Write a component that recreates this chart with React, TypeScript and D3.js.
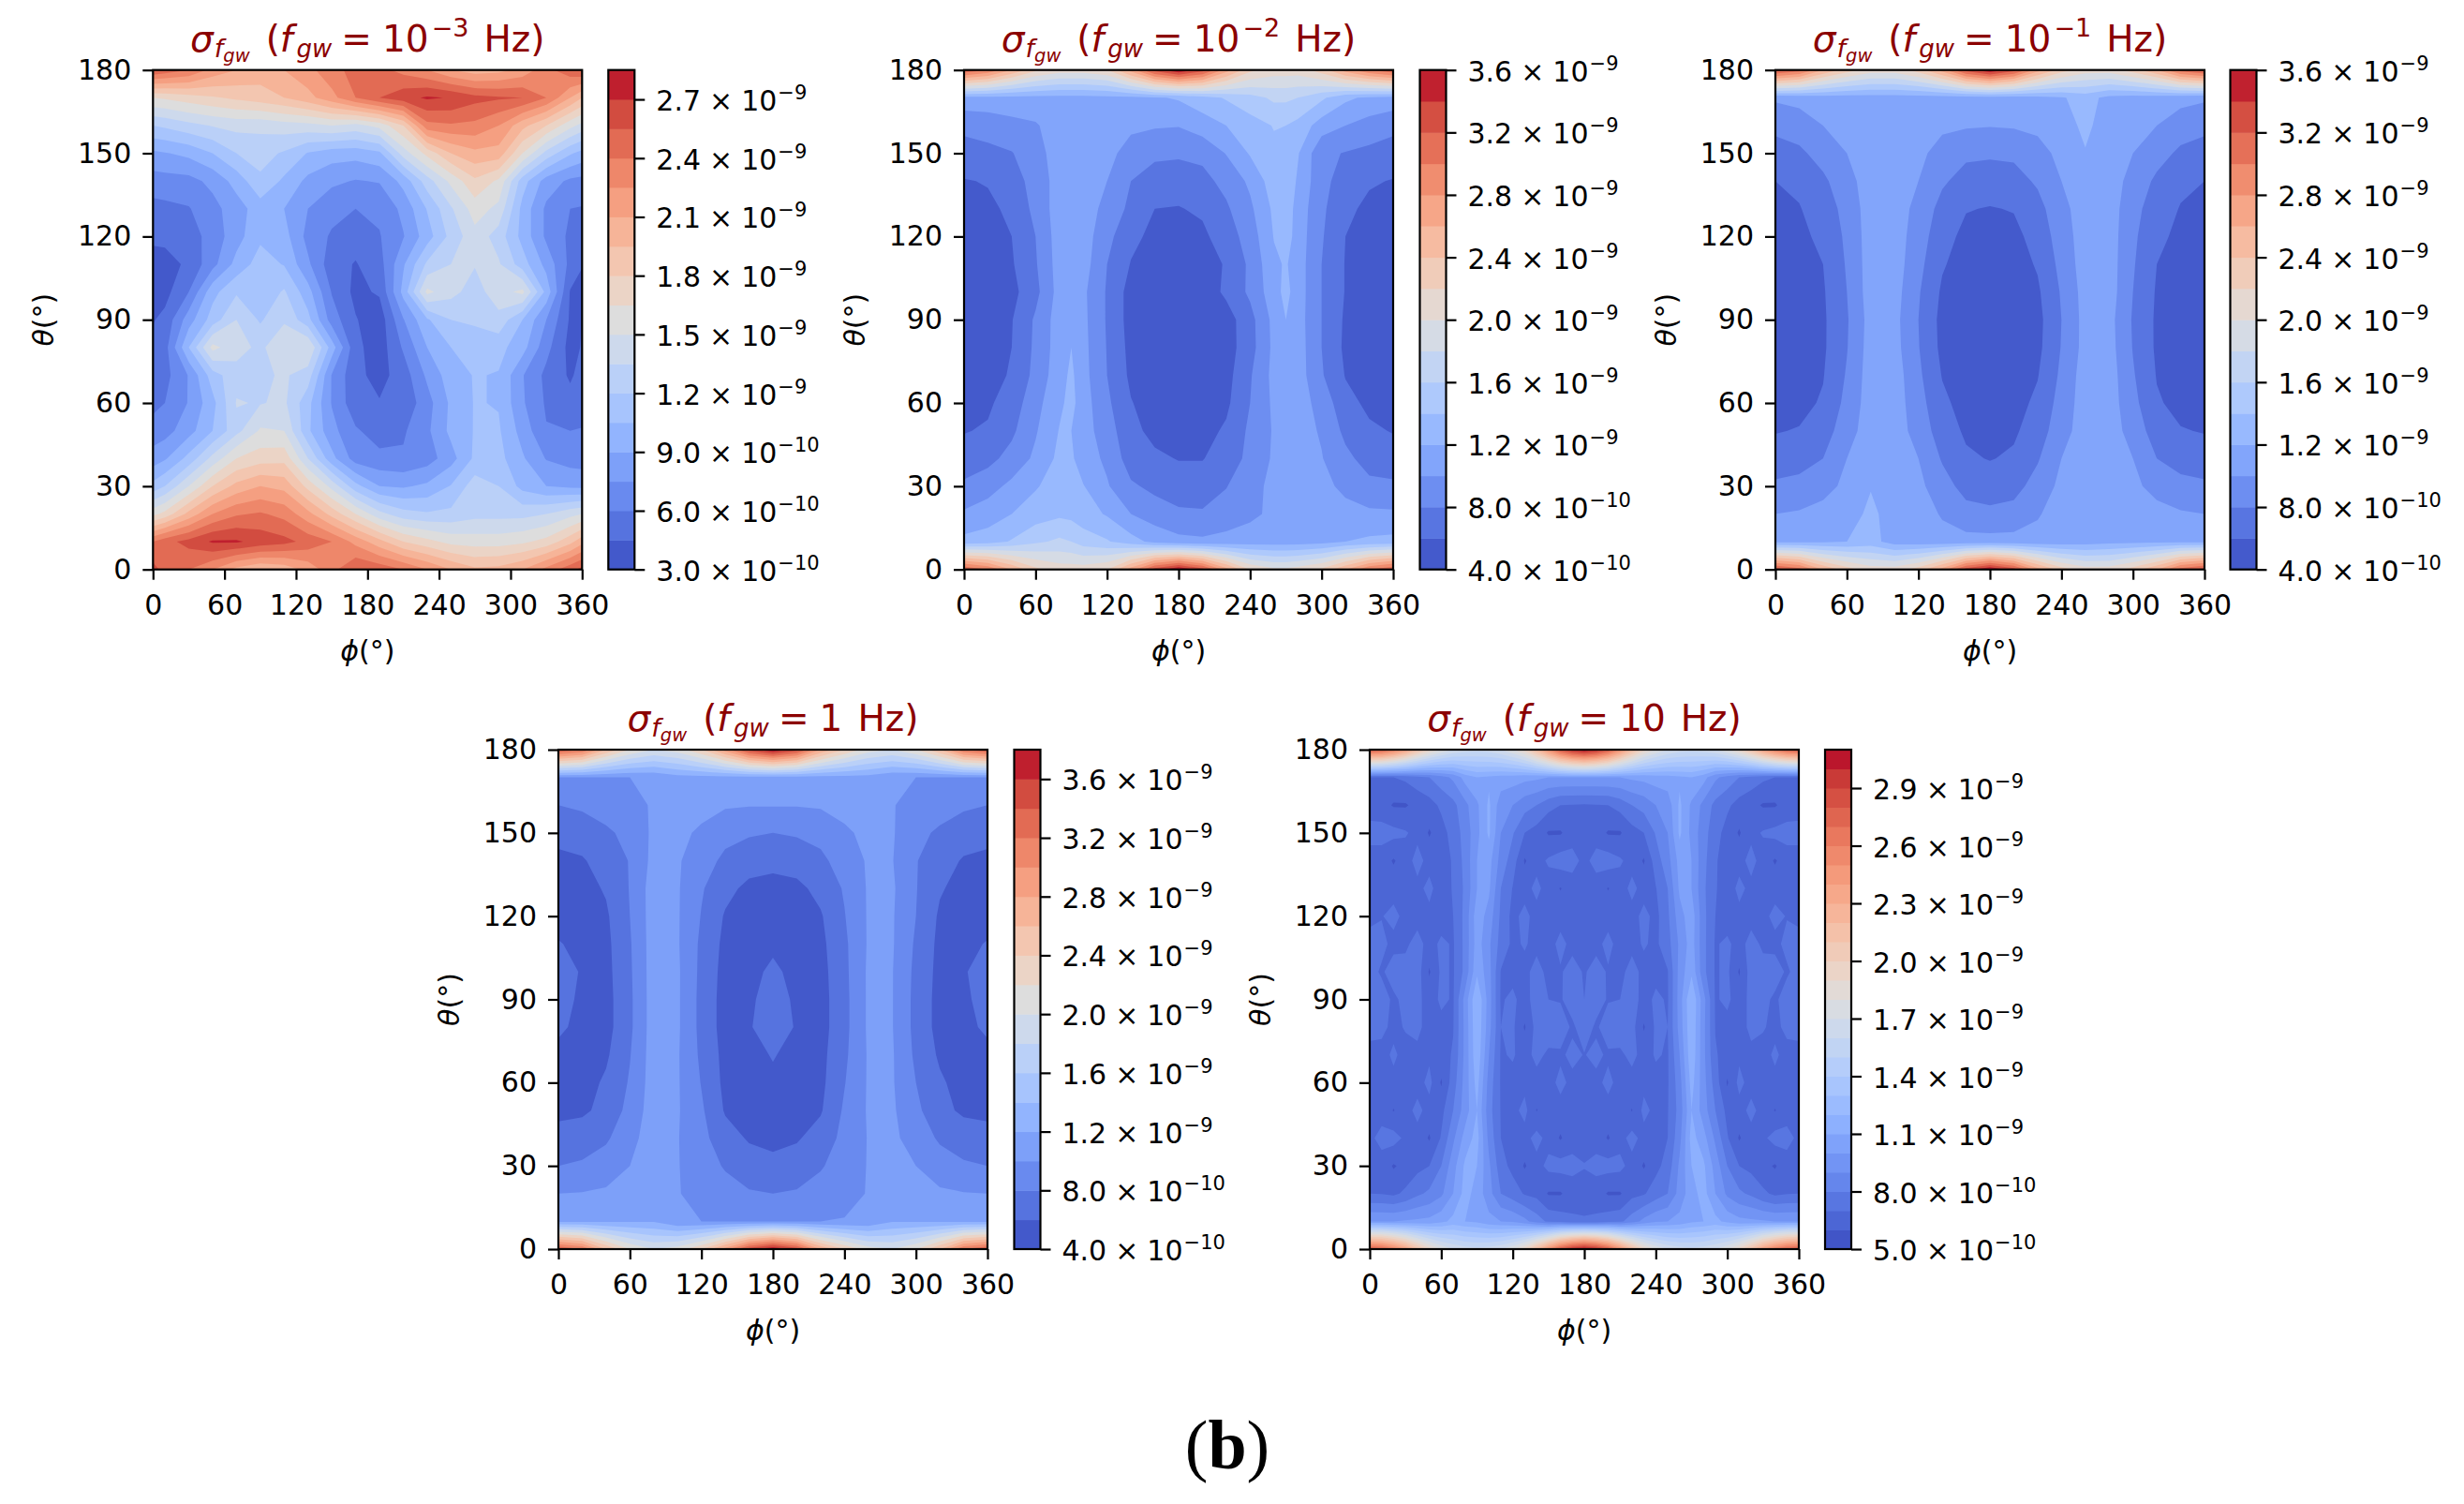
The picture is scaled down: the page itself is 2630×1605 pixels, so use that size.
import React, {useEffect, useRef} from "react";
import * as d3 from "d3";

// all sigma values are in units of 1e-10
const thetaNodes = d3.range(0, 181, 10);
const phi20 = d3.range(0, 361, 20);
const phi10 = d3.range(0, 361, 10);
const phiOdd = [0, 10, 30, 50, 70, 90, 110, 130, 150, 170, 190, 210, 230, 250, 270, 290, 310, 330, 350, 360];
const phiSpike = [0, 20, 40, 60, 80, 90, 100, 120, 140, 160, 180, 200, 220, 240, 260, 270, 280, 300, 320, 340, 360];

const xTicks = [0, 60, 120, 180, 240, 300, 360];
const yTicks = [0, 30, 60, 90, 120, 150, 180];

const levels1 = d3.range(0, 18).map(i => 3 + i * 1.5);
const levels2 = d3.range(0, 17).map(i => 4 + i * 2);
const levels4 = d3.range(0, 18).map(i => 4 + i * 2);
const levels5 = d3.range(0, 27).map(i => 5 + i);

const barTicks1 = [3, 6, 9, 12, 15, 18, 21, 24, 27];
const barTicks2 = [4, 8, 12, 16, 20, 24, 28, 32, 36];
const barTicks5 = [5, 8, 11, 14, 17, 20, 23, 26, 29];

const sigma1 = [
  [26,25,24,22.5,20.5,19.5,20,21.5,23.5,25.5,25,24,22.5,21,19.8,20,21,23,25,26],
  [24,25,26,27.2,27.2,26.5,26,25,24,22,20,18,17,16,15.8,15.8,16.2,17,19,20.5],
  [16,17,20,22.5,23.8,24.2,23.5,21.5,19,16.5,14,12.6,12.2,12.4,13,13,13,13.5,14.5,15],
  [11,12,15,18,20,21,20.5,17.5,14.5,11,9,8.8,9.3,10.6,12.8,12,10,9,8.7,8.6],
  [8.2,8.8,11,14,16.5,17.3,17.5,13.5,9.5,6.8,6.4,6.2,6.8,8.4,10.8,11,9.2,7.4,6.9,6.8],
  [6.6,6.9,8.4,10.5,13,15.2,15,10.8,8,6.2,5.3,5.8,7.2,9.4,10.6,10.7,8.4,6.1,6,6.1],
  [5.6,6,7.6,10,13.6,13.4,13.8,11,7.4,5,4.6,4.9,6.9,9.3,10.6,10.4,7.7,5.8,5,5.2],
  [5.2,5.5,7.6,11.3,13,13.2,13.7,12.8,7.4,4.9,4,5.2,7.8,9.8,10.6,10.4,7.6,5.6,4.3,5],
  [5,5.4,10.5,15.5,14,13.2,14.6,15,9.8,4.9,3.7,6.2,9,10.5,11,11,9.6,6.5,4,4.6],
  [4.4,4.9,8.3,11.2,13.5,11.8,13.3,11,6.8,4.6,3.6,7.4,10.3,12,12.3,13,10.5,7.5,4.3,4.5],
  [3.8,4,6,10,11.8,10.8,12.2,9.6,5.9,4.1,4.7,9.5,15.4,14,12.8,14.4,15.4,10,4.4,3.9],
  [3.9,3.9,4.8,7,9.5,11.2,10.4,7.8,5.1,4.4,5.4,8.8,12.3,13.5,13.6,13.7,11.2,8.5,5.6,4.6],
  [4.8,4.9,5.3,6.6,8.4,10.2,9.6,7,5.8,5.1,5.9,7.4,9.8,12.5,14.5,12.8,10,7.2,5.7,5.3],
  [5.5,5.6,5.9,7,8.3,9.8,9,7.5,6.5,6,6.3,7.9,10.6,13.3,15.7,14.6,10,7.2,6,5.9],
  [6.8,6.9,7,7.9,9.6,11.7,10.2,8.6,7.8,7.4,7.6,9.5,12.8,15.4,17.7,16.2,11.2,8.3,7.2,7],
  [8.7,8.9,9.4,10.5,12,12.6,11.8,10.4,9.7,9.6,10.2,14.2,17,19.5,20.6,20.4,16.5,13,10.7,10],
  [12,12.3,13,13.6,14,13.9,14.3,14.5,15,14.5,15.5,18,23.5,23.8,23.6,22.5,20,18,15.5,14.5],
  [16.5,16.7,17.3,17.8,18.3,18.8,19.5,20.5,22,24,25.5,26.5,27.2,26.9,26,25.7,25.5,24,21,19.5],
  [25.5,25,24,22,21,20.3,21,22,23.5,24.5,24.5,23.5,22.5,21,20.2,20.5,21.5,23.5,25,25.5],
];

const sigma2 = [
  [32,30,26,22.5,21,21,21,22,27,33,36,33,27,22,20.5,20.5,21,22.5,26,30,32],
  [12.6,13,14.2,15.6,16.4,16,15,14.2,12.8,11.4,10.6,10.4,10.6,10.9,11,11,11,11.3,12,12.4,12.6],
  [10.3,11,12,13,13.6,13.4,12.9,11.8,10,9,8.3,8.2,9,9.6,10.4,10.6,10.7,10.8,10.7,10.4,10.3],
  [8.4,9.2,10.5,11.8,13,12.8,12.1,10.2,8.3,7.5,7.1,7.1,7.9,9.6,10.3,10.6,10.7,10.6,9.5,8.5,8.4],
  [6.8,7.4,8.7,10.4,12.5,12.3,11,9.6,7,6.4,5.9,5.9,7,8.5,10.3,10.7,10.8,10.1,8.5,7.2,6.8],
  [5.9,6.2,7.6,9.8,12.1,12,10.9,8.9,6.6,5.4,5.3,5.3,6.3,8.4,10.2,10.7,10.8,9.8,7.5,6.3,5.9],
  [5.3,5.7,6.9,9.3,11.6,12.6,10.9,8.4,6.1,5.1,5,5,5.6,8,10.4,10.9,10.9,9.3,6.6,5.6,5.3],
  [5,5.3,6.2,8.6,11.2,12.4,10.7,8,5.6,4.9,4.8,4.9,5.3,7.8,10.6,10.9,11,8.2,5.9,5.2,5],
  [4.8,5,6,8.4,11,12,10.6,7.9,5.4,4.8,4.7,4.8,5.1,7.2,10.5,10.9,11,8,5.6,5,4.8],
  [4.8,5,5.9,8.3,11,12,10.5,7.8,5.2,4.7,4.6,4.7,5.1,7.3,10.6,12,10.9,8,5.7,5,4.8],
  [4.9,5.1,5.4,7.4,10.8,11.5,10.4,7.8,5.2,4.7,4.6,4.8,6.4,8.4,11.2,12.6,11,8,5.9,5.1,4.9],
  [5.1,5.3,5.8,7.8,10.9,11.4,10.9,8,5.9,4.9,4.8,5,6.2,8.4,11.6,12.2,11,8,5.9,5.3,5.1],
  [5.4,5.7,6,8,11,11.4,11,8.6,6.5,5.5,5.2,5.6,7,8.9,12.1,13,11.1,8.2,6,5.6,5.4],
  [5.6,5.7,6.3,8.6,11,11.4,11,9.4,7.5,6,5.9,6.3,7.7,9.6,12.4,13.2,11.2,8.4,6.4,5.6,5.6],
  [5.9,6.1,7.3,8.6,11,11.4,11,10,8,7.1,6.9,7.4,8.6,10.4,13.1,13.6,11.7,8.6,7.1,6.2,5.9],
  [7.2,7.5,7.9,9.2,11,11.4,11,10.6,9.2,8.4,8.3,8.5,10.1,12.2,13.6,13.9,12.2,8.4,7.9,7.5,7.2],
  [8.5,8.8,9.4,9.8,11,11,11,11,10.4,10.2,10.1,11,12,13.2,14.1,14,13.4,11,10,9.2,8.5],
  [11.3,11.3,11.3,11.3,11.3,11.3,11.3,11.4,11.4,11.8,12.2,13.2,14.2,15.2,16.4,16.4,16,14.4,12.4,11.6,11.3],
  [32,30,26,22.5,21,21,21,22,27,33,36,33,27,22.5,21,21,21,23,27,30,32],
];

const sigma3 = [
  [33,31,26,23,21,21,23,27,33,36,33,27,23,21,21,23,26,31,33],
  [11.6,11.6,11.7,12,12.8,11,10.8,10.7,10.7,10.7,10.7,10.7,10.8,11,11.4,11.5,11.6,11.6,11.6],
  [10,10.2,10.6,11.2,12.4,11.2,11,9.8,8.7,8.4,8.7,9.8,11,11.2,11.2,11,10.6,10.2,10],
  [8.4,8.7,9.4,10.4,11.9,11,10.5,8.8,7.3,7.1,7.3,8.8,10.5,11,11,10.4,9.4,8.7,8.4],
  [6.8,7.1,8,10,11,11,10,7.8,6.3,5.9,6.3,7.8,10,11,11,10,8,7.1,6.8],
  [5.9,6.1,7,9.2,11,11,9.2,7,5.7,5.4,5.7,7,9.2,11,11,9.2,7,6.1,5.9],
  [5.3,5.5,6.2,8.6,11,11,8.8,6.4,5.3,5,5.3,6.4,8.8,11,11,8.6,6.2,5.5,5.3],
  [5,5.2,5.9,8.2,11,11,8.4,5.9,5,4.8,5,5.9,8.4,11,11,8.2,5.9,5.2,5],
  [4.8,5,5.7,7.9,10.9,10.7,8.1,5.5,4.7,4.7,4.7,5.5,8.1,10.7,10.8,7.9,5.7,5,4.8],
  [4.8,5,5.7,7.8,10.8,10.6,8,5.4,4.7,4.6,4.7,5.4,8,10.7,10.7,7.8,5.7,5,4.8],
  [4.9,5.1,5.8,8,11,10.8,8.2,5.7,4.8,4.7,4.8,5.7,8.2,10.8,11,8,5.8,5.1,4.9],
  [5.1,5.3,6,8.2,11,11,8.6,6.2,5.1,4.9,5.1,6.2,8.6,11,11,8.2,6,5.3,5.1],
  [5.4,5.6,6.4,8.4,11,11,9,6.7,5.5,5.2,5.5,6.7,9,11,11,8.4,6.4,5.6,5.4],
  [5.6,5.9,6.9,8.7,11,11,9.4,7.3,6.1,5.9,6.1,7.3,9.4,11,11,8.7,6.9,5.9,5.6],
  [6,6.4,7.6,9.3,11,11,10,8.3,7.2,7,7.2,8.3,10,11,11,9.3,7.6,6.4,6],
  [7.2,7.6,8.8,10,11,11,10.5,9.2,8.4,8.3,8.4,9.2,10.6,11.9,11,10,8.8,7.6,7.2],
  [8.5,9,10,10.8,11,11,10.8,10.4,10.2,10.1,10.2,10.5,11.2,12.4,11.1,10.8,10,9,8.5],
  [10.3,10.6,11,11,11.1,11.1,11.1,11,11,11,11,11.3,11.8,12.8,11.4,11.1,11,10.6,10.3],
  [33,31,26,23,21,21,23,27,33,36,33,27,23,21,21,23,26,31,33],
];

const sigma4 = [
  [34,32,26,22,20,21,24,29,35,38,35,28,24,21,20,22,26,32,34],
  [11.6,11.6,11.7,11.8,11.8,10.2,10,10,10,10,10,10,10.1,10.2,11.8,11.8,11.7,11.6,11.6],
  [10,10.1,10.3,10.8,11,10.1,9.4,8.8,8.2,8,8.2,8.8,9.4,10.1,10.8,10.8,10.3,10.1,10],
  [8,8.3,9,10,11,10.1,9,7.8,6.9,6.5,6.9,7.8,9,10.1,10.6,10,9,8.3,8],
  [6.6,6.9,7.7,9.4,11,10.1,8.6,6.8,5.8,5.5,5.8,6.8,8.6,10.1,10.4,9.2,7.7,6.9,6.6],
  [5.6,5.7,6.5,8.7,11,10.2,8.3,5.8,5.3,5.2,5.3,5.8,8.3,10.2,10.3,8.5,6.5,5.7,5.6],
  [5.1,5.2,6.3,8.2,11,10.2,7.9,5.5,5.2,5.7,5.2,5.5,7.9,10.2,10.2,8,6.3,5.2,5.1],
  [5.7,5.4,5.7,7.9,11,10.2,7.6,5.4,5.5,6.1,5.5,5.4,7.6,10.2,10.2,7.6,5.7,5.4,5.7],
  [6.2,5.7,5.3,7.6,11,10.3,7.4,5.2,5.9,6.6,5.9,5.2,7.4,10.3,10.1,7.4,5.3,5.7,6.2],
  [6.4,5.8,5.3,7.6,11,10.3,7.4,5.2,5.8,6.5,5.8,5.2,7.4,10.3,10.1,7.4,5.3,5.8,6.4],
  [6.5,5.9,5.4,7.7,11,10.3,7.5,5.3,5.7,6.2,5.7,5.3,7.5,10.3,10.1,7.5,5.4,5.9,6.5],
  [6.1,5.6,5.5,7.8,11,10.2,7.6,5.5,5.4,5.8,5.4,5.5,7.6,10.2,10.2,7.7,5.5,5.6,6.1],
  [5.4,5.3,5.7,8,11,10.2,7.9,5.8,5.2,5,5.2,5.8,7.9,10.2,10.2,8,5.7,5.3,5.4],
  [5.1,5.3,6.2,8.1,11,10.2,8.2,6.6,5.5,5.3,5.5,6.6,8.2,10.2,10.3,8.1,6.2,5.3,5.1],
  [5.5,5.8,6.9,8.1,10.6,10.2,9,7.5,6.9,6.6,6.9,7.5,9,10.2,10.1,8.1,6.9,5.8,5.5],
  [6.7,7,7.7,8.5,10.4,10.3,9.8,8.7,8.2,8,8.2,8.7,9.8,10.3,10.2,8.5,7.7,7,6.7],
  [8,8.3,8.8,9.4,10.2,10.6,10.4,10.2,10.1,10.1,10.1,10.2,10.4,10.6,10.1,9.4,8.8,8.3,8],
  [10,10,10,10,10.3,11.2,11.3,11.3,11.3,11.3,11.3,11.3,11.3,11.2,10.3,10,10,10,10],
  [34,32,26,22,20,21,24,29,35,38,35,28,24,21,20,22,26,32,34],
];

const sigma5 = [
  [28,27.5,26,24,21.5,19.5,18,17,16.5,16.3,16.5,17,18,19.5,22,25,28,30,31,30,28,25,22,19.5,18,17,16.5,16.3,16.5,17,18,19.5,21.5,24,26,27.5,28],
  [10,10,10,10.1,10.2,10.3,10.7,11.3,11,10.8,10.3,10,9.8,9.3,8.5,7.8,7.6,7.2,7.1,7.2,7.6,7.8,8.5,9.3,9.8,10,10.3,10.8,11,11.3,10.7,10.3,10.2,10.1,10,10,10],
  [7,6.95,6.8,7.2,7.8,8.2,8.8,10,11.4,10.6,9.4,8,7.5,6.9,6.7,5.9,5.9,6.5,6.6,6.5,5.9,5.9,6.7,6.9,7.5,8,9.4,10.6,11.4,10,8.8,8.2,7.8,7.2,6.8,6.95,7],
  [6.7,6.6,5.9,6.3,6.7,7,8,9.6,11.2,11,9.2,7.4,6.7,5.9,6.6,7.3,7.4,7.3,7.05,7.3,7.4,7.3,6.6,5.9,6.7,7.4,9.2,11,11.2,9.6,8,7,6.7,6.3,5.9,6.6,6.7],
  [6.8,7.3,7.4,6.8,6.6,5.9,7.1,8.8,10.4,11.4,8.7,7,6.1,6.6,7.4,6.6,5.9,6.6,6.6,6.6,5.9,6.6,7.4,6.6,6.1,7,8.7,11.4,10.4,8.8,7.1,5.9,6.6,6.8,7.4,7.3,6.8],
  [6.6,6.6,5.95,6.6,7.3,6.6,6.7,8,9.5,11,8.4,6.95,6.7,7.3,5.95,6.6,6.6,6.6,6.6,6.6,6.6,6.6,5.95,7.3,6.7,6.95,8.4,11,9.5,8,6.7,6.6,7.3,6.6,5.95,6.6,6.6],
  [6.6,6.6,6.7,6.6,6.6,7.3,5.9,7.5,9.4,11.4,8.6,6.9,6.7,6.7,6.6,6.6,7.3,6.7,6.6,6.7,7.3,6.6,6.6,6.7,6.7,6.9,8.6,11.4,9.4,7.5,5.9,7.3,6.6,6.6,6.7,6.6,6.6],
  [6.6,6.6,7.2,6.6,6.7,6.8,6.6,7.1,9.3,11.8,9,6.9,7.1,6.6,7.3,6.8,6.8,7.3,6.95,7.3,6.8,6.8,7.3,6.6,7.1,6.9,9,11.8,9.3,7.1,6.6,6.8,6.7,6.6,7.2,6.6,6.6],
  [7.4,7.3,6.7,7.1,7.3,6.5,6.7,6.95,9.3,11.9,9.4,7,7.2,5.9,7.4,7.6,7.7,6.8,7.6,6.8,7.7,7.6,7.4,5.9,7.2,7,9.4,11.9,9.3,6.95,6.7,6.5,7.3,7.1,6.7,7.3,7.4],
  [7.5,7.5,6.8,7.3,7.3,6.5,7.2,6.9,9.4,12,9.5,6.9,7.2,6.6,7.5,7,6.9,7.5,7,7.5,6.9,7,7.5,6.6,7.2,6.9,9.5,12,9.4,6.9,7.2,6.5,7.3,7.3,6.8,7.5,7.5],
  [7.4,6.85,7.5,7.4,7.5,5.9,7.2,6.9,8.3,10.8,9.4,6.95,6.7,6.7,7.4,6.7,6.9,7.4,6.9,7.4,6.9,6.7,7.4,6.7,6.7,6.95,9.4,10.8,8.3,6.9,7.2,5.9,7.5,7.4,7.5,6.85,7.4],
  [7.3,7.3,6.7,6.8,7.4,6.6,7.2,6.9,8.3,10.5,9.2,7.6,6.8,7.1,6.7,6.6,7.3,6.7,6.6,6.7,7.3,6.6,6.7,7.1,6.8,7.6,9.2,10.5,8.3,6.9,7.2,6.6,7.4,6.8,6.7,7.3,7.3],
  [6.8,6.95,7.3,6.7,6.6,6.7,6.5,7,8.3,10.6,9.6,7.8,6.7,7.3,6.6,6.6,6.6,6.6,6.6,6.6,6.6,6.6,6.6,7.3,6.7,7.8,9.6,10.6,8.3,7,6.5,6.7,6.6,6.7,7.3,6.95,6.8],
  [6.6,6.6,6.6,6.6,6.7,7.3,6.4,7.1,8.2,10,10.2,8,6.95,6.6,7.3,6.5,5.95,6.5,6.6,6.5,5.95,6.5,7.3,6.6,6.95,8,10.2,10,8.2,7.1,6.4,7.3,6.7,6.6,6.6,6.6,6.6],
  [6.5,6.5,5.9,6.5,7.4,6.6,6.1,7.2,8.3,10,10.4,8.6,7.5,5.9,6.6,7.15,7.5,7.4,6.7,7.4,7.5,7.15,6.6,5.9,7.5,8.6,10.4,10,8.3,7.2,6.1,6.6,7.4,6.5,5.9,6.5,6.5],
  [7.4,7.4,7.3,7.1,6.7,5.9,6.6,7.4,8.4,9.7,11.2,9,8.1,7,6.6,5.9,5.9,6.5,6.6,6.5,5.9,5.9,6.6,7,8.1,9,11.2,9.7,8.4,7.4,6.6,5.9,6.7,7.1,7.3,7.4,7.4],
  [6.5,6.4,5.9,5.9,6.3,6.6,7.2,7.7,8.7,9.8,11.2,9.4,9,8.4,8,7.4,7,6.95,6.9,6.95,7,7.4,8,8.4,9,9.4,11.2,9.8,8.7,7.7,7.2,6.6,6.3,5.9,5.9,6.4,6.5],
  [6.9,6.9,7,7.2,7.6,8,8.6,9.2,10.4,11,10.8,10.6,10.5,10.3,10.2,10,10,10,10,10,10,10,10.2,10.3,10.5,10.6,10.8,11,10.4,9.2,8.6,8,7.6,7.2,7,6.9,6.9],
  [28,27.5,26,24,21.5,19.5,18,17,16.5,16.3,16.5,17,18,19.5,22,25,28,30,31,30,28,25,22,19.5,18,17,16.5,16.3,16.5,17,18,19.5,21.5,24,26,27.5,28],
];

// coolwarm anchors, evenly spaced over 0..1
const coolwarmHex = ["#3b4cc0", "#4d68d7", "#6282ea", "#779af7", "#8db0fe", "#a3c2fe", "#b8cff9", "#ccd9ed", "#dddddd",
  "#ecd3c5", "#f4c4ad", "#f7b194", "#f49a7b", "#ec7f63", "#dd604c", "#cb3e38", "#b40426"];
const coolwarm = d3.scaleLinear<string>()
  .domain(coolwarmHex.map((_, i) => i / (coolwarmHex.length - 1)))
  .range(coolwarmHex);

const FONT = "'DejaVu Sans'";
const TICK_SIZE = 30;

type Panel = {
  sigma: number[][], phi: number[], levels: number[], barTicks: number[],
  base: string, exp: string,
  left: number, top: number, barLeft: number,
};

const PLOT_W = 458;
const PLOT_H = 533;
const BAR_W = 28;

const panels: Panel[] = [
  {sigma: sigma1, phi: phiOdd, levels: levels1, barTicks: barTicks1, base: "10", exp: "\u22123", left: 163.3, top: 74.7, barLeft: 649.3},
  {sigma: sigma2, phi: phiSpike, levels: levels2, barTicks: barTicks2, base: "10", exp: "\u22122", left: 1029, top: 74.7, barLeft: 1515.5},
  {sigma: sigma3, phi: phi20, levels: levels2, barTicks: barTicks2, base: "10", exp: "\u22121", left: 1895, top: 74.7, barLeft: 2380.5},
  {sigma: sigma4, phi: phi20, levels: levels4, barTicks: barTicks2, base: "1", exp: "", left: 596, top: 800, barLeft: 1082.5},
  {sigma: sigma5, phi: phi10, levels: levels5, barTicks: barTicks5, base: "10", exp: "", left: 1462, top: 800, barLeft: 1948},
];

const Axis = ({axis, x, y, font}: {axis: d3.Axis<any>, x: number, y: number, font: boolean}) => {
  const ref = useRef<SVGGElement>(null);
  useEffect(() => {
    const g = d3.select(ref.current!);
    g.call(axis);
    g.select(".domain").remove();
    g.attr("font-family", FONT).attr("font-size", font ? TICK_SIZE : 0);
    g.selectAll("line").attr("stroke", "#000").attr("stroke-width", 2.2);
    g.selectAll("text").attr("fill", "#000");
  });
  return <g ref={ref} transform={`translate(${x},${y})`}/>;
};

const BarLabel = ({value, x, y}: {value: number, x: number, y: number}) => {
  const mant = value >= 10 ? (value / 10).toFixed(1) : value.toFixed(1);
  const exp = value >= 10 ? "\u22129" : "\u221210";
  return (
    <text x={x} y={y} fontFamily={FONT} fontSize={TICK_SIZE} fill="#000">
      {mant}<tspan dx={9}>×</tspan><tspan dx={9}>10</tspan>
      <tspan dx={1} dy={-12} fontSize={21}>{exp}</tspan>
    </text>
  );
};

const Title = ({p}: {p: Panel}) => (
  <text x={p.left + PLOT_W / 2} y={p.top - 20} textAnchor="middle" fontFamily={FONT} fontSize={39} fill="#8b0000">
    <tspan fontStyle="italic">σ</tspan>
    <tspan fontStyle="italic" fontSize={27} dy={6} dx={1}>f</tspan>
    <tspan fontStyle="italic" fontSize={19.5} dy={5}>gw</tspan>
    <tspan dx={17} dy={-11}>(</tspan>
    <tspan fontStyle="italic">f</tspan>
    <tspan fontStyle="italic" fontSize={26} dy={6} dx={4}>gw</tspan>
    <tspan dx={10} dy={-6}>=</tspan>
    <tspan dx={11}>{p.base}</tspan>
    {p.exp ? <tspan dx={3} fontSize={27} dy={-16}>{p.exp}</tspan> : null}
    <tspan dx={16} dy={p.exp ? 16 : 0}>Hz)</tspan>
  </text>
);

const Chart = ({p}: {p: Panel}) => {
  const x = d3.scaleLinear().domain([0, 360]).range([0, PLOT_W]);
  const y = d3.scaleLinear().domain([0, 180]).range([PLOT_H, 0]);
  const bar = d3.scaleLinear()
    .domain([p.levels[0], p.levels[p.levels.length - 1]])
    .range([PLOT_H, 0]);

  const nx = p.phi.length;
  const ny = thetaNodes.length;
  // grid index -> degrees; d3.contours puts node i at i + 0.5
  const phiOf = d3.scaleLinear().domain(p.phi.map((_, i) => i + 0.5)).range(p.phi).clamp(true);
  const thetaOf = d3.scaleLinear().domain(thetaNodes.map((_, i) => i + 0.5)).range(thetaNodes).clamp(true);
  const path = d3.geoPath(d3.geoTransform({
    point(px: number, py: number) {
      (this as any).stream.point(x(phiOf(px)), y(thetaOf(py)));
    },
  }));
  const bands = p.levels.slice(0, -1);
  const contours = d3.contours().size([nx, ny]).smooth(true).thresholds(bands)(p.sigma.flat());
  const color = (i: number) => coolwarm((i + 0.5) / bands.length);
  const clipId = `clip-${p.left}`;
  const mid = PLOT_H / 2;

  return (
    <g>
      <Title p={p}/>
      <g transform={`translate(${p.left},${p.top})`}>
        <clipPath id={clipId}><rect width={PLOT_W} height={PLOT_H}/></clipPath>
        <g clipPath={`url(#${clipId})`}>
          <rect width={PLOT_W} height={PLOT_H} fill={color(0)}/>
          {contours.map((c, i) => (
            <path key={i} d={path(c as any) || ""} fill={color(i)} fillRule="evenodd"/>
          ))}
        </g>
        <rect width={PLOT_W} height={PLOT_H} fill="none" stroke="#000" strokeWidth={2.2}/>
        <text x={PLOT_W / 2} y={PLOT_H + 97} textAnchor="middle" fontFamily={FONT} fontSize={TICK_SIZE}>
          <tspan fontStyle="italic">ϕ</tspan>(°)
        </text>
        <text transform={`translate(-106,${mid}) rotate(-90)`} textAnchor="middle" fontFamily={FONT} fontSize={TICK_SIZE}>
          <tspan fontStyle="italic">θ</tspan>(°)
        </text>
      </g>
      <Axis x={p.left} y={p.top + PLOT_H} font={true}
            axis={d3.axisBottom(x).tickValues(xTicks).tickSize(11).tickPadding(16)}/>
      <Axis x={p.left} y={p.top} font={true}
            axis={d3.axisLeft(y).tickValues(yTicks).tickSize(11).tickPadding(12)}/>
      <g transform={`translate(${p.barLeft},${p.top})`}>
        {bands.map((lev, i) => (
          <rect key={i} x={0} y={bar(p.levels[i + 1])} width={BAR_W}
                height={bar(lev) - bar(p.levels[i + 1]) + 0.5} fill={color(i)}/>
        ))}
        <rect width={BAR_W} height={PLOT_H} fill="none" stroke="#000" strokeWidth={2.2}/>
        {p.barTicks.map(t => <BarLabel key={t} value={t} x={BAR_W + 23} y={bar(t) + 12}/>)}
      </g>
      <Axis x={p.barLeft + BAR_W} y={p.top} font={false}
            axis={d3.axisRight(bar).tickValues(p.barTicks).tickSize(11).tickFormat(() => "")}/>
    </g>
  );
};

const App = () => (
  <svg width={2630} height={1605} style={{position: "absolute", left: 0, top: 0, background: "#fff"}}>
    {panels.map((p, i) => <Chart key={i} p={p}/>)}
    <text x={1310} y={1567} textAnchor="middle" fontFamily="'Liberation Serif'" fontSize={74} fill="#000">
      (<tspan fontWeight="bold">b</tspan>)
    </text>
  </svg>
);

export default App;
